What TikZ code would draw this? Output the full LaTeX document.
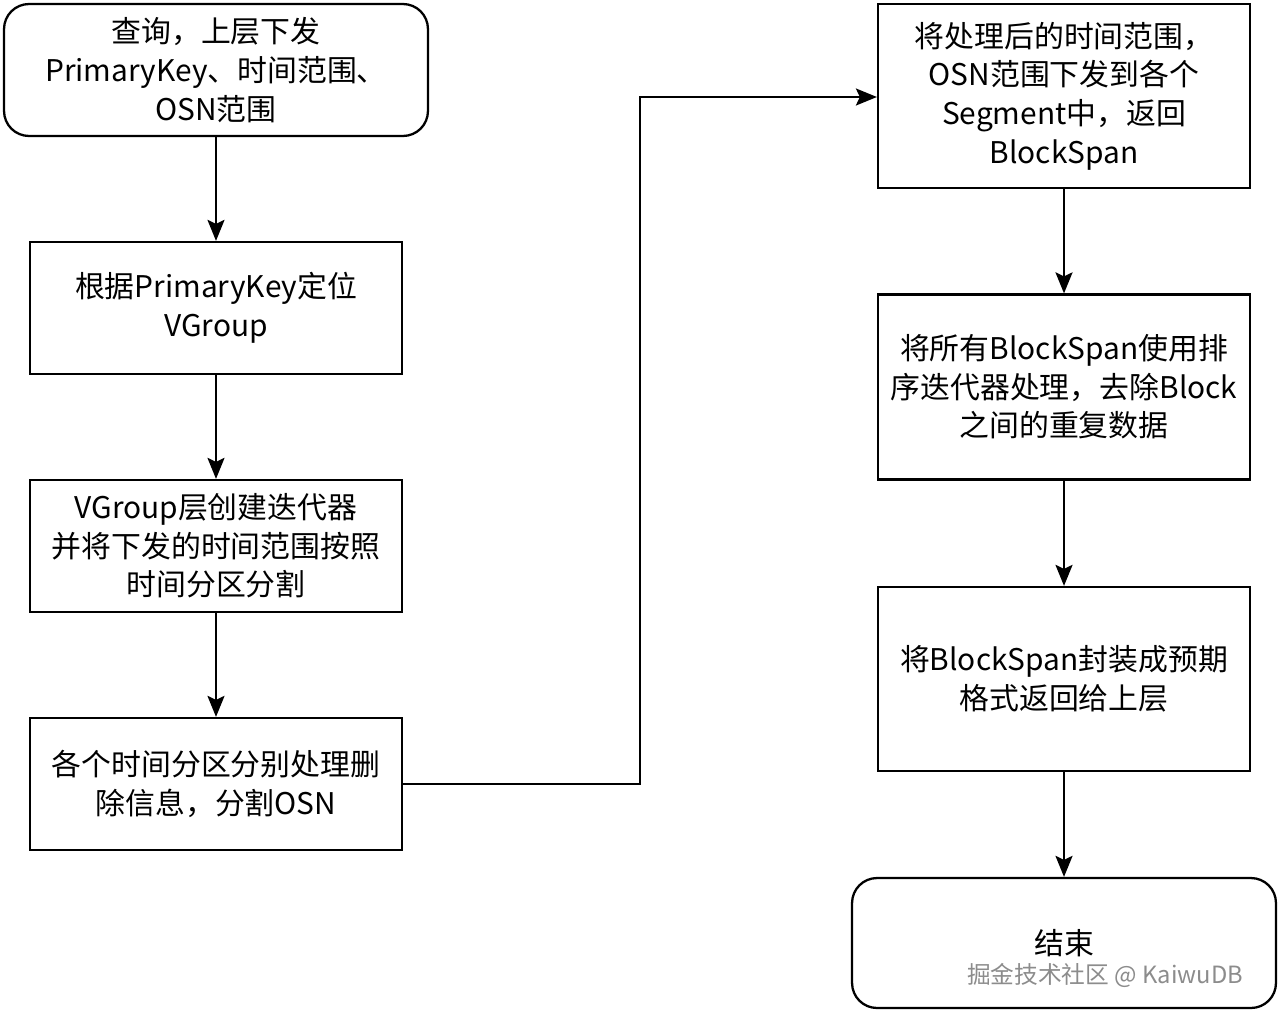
\documentclass[tikz,border=0pt]{standalone}
\usepackage{fontspec}
\setmainfont{Noto Sans CJK SC}
\usetikzlibrary{arrows.meta}

\begin{document}
\begin{tikzpicture}[x=0.02cm,y=-0.02cm,
  box/.style={draw,line width=1.3pt,align=center,inner sep=0pt,
    minimum width=7.44cm,font=\fontsize{17}{22}\selectfont},
  endbox/.style={box,rounded corners=0.5cm,minimum width=8.48cm},
  flow/.style={line width=1.3pt,-{Stealth[length=0.42cm,width=0.34cm,inset=0.08cm]}}]
 \useasboundingbox (0,0) rectangle (1280,1014);

 \node[endbox,minimum height=2.64cm] (start) at (216,70)
   {查询，上层下发\\PrimaryKey、时间范围、\\OSN范围};
 \node[box,minimum height=2.64cm] (vgrp) at (216,308)
   {根据PrimaryKey定位\\VGroup};
 \node[box,minimum height=2.64cm] (iter) at (216,546)
   {VGroup层创建迭代器\\并将下发的时间范围按照\\时间分区分割};
 \node[box,minimum height=2.64cm] (part) at (216,784)
   {各个时间分区分别处理删\\除信息，分割OSN};
 \node[box,minimum height=3.68cm] (seg) at (1064,96)
   {将处理后的时间范围，\\OSN范围下发到各个\\Segment中，返回\\BlockSpan};
 \node[box,minimum height=3.7cm] (sort) at (1064,387)
   {将所有BlockSpan使用排\\序迭代器处理，去除Block\\之间的重复数据};
 \node[box,minimum height=3.68cm] (pack) at (1064,679)
   {将BlockSpan封装成预期\\格式返回给上层};
 \node[endbox,minimum height=2.6cm] (fin) at (1064,943) {结束};
 \node[text=black!45,font=\fontsize{13.5}{16}\selectfont] (mark) at (1105,975)
   {掘金技术社区 @ KaiwuDB};

 \coordinate (c1) at (640,784);
 \coordinate (c2) at (640,97);

\draw[flow] (start) -- (vgrp);
\draw[flow] (vgrp) -- (iter);
\draw[flow] (iter) -- (part);
\draw[flow] (part.east) -- (c1) -- (c2) -- (c2 -| seg.west);
\draw[flow] (seg) -- (sort);
\draw[flow] (sort) -- (pack);
\draw[flow] (pack) -- (fin);
\end{tikzpicture}
\end{document}
